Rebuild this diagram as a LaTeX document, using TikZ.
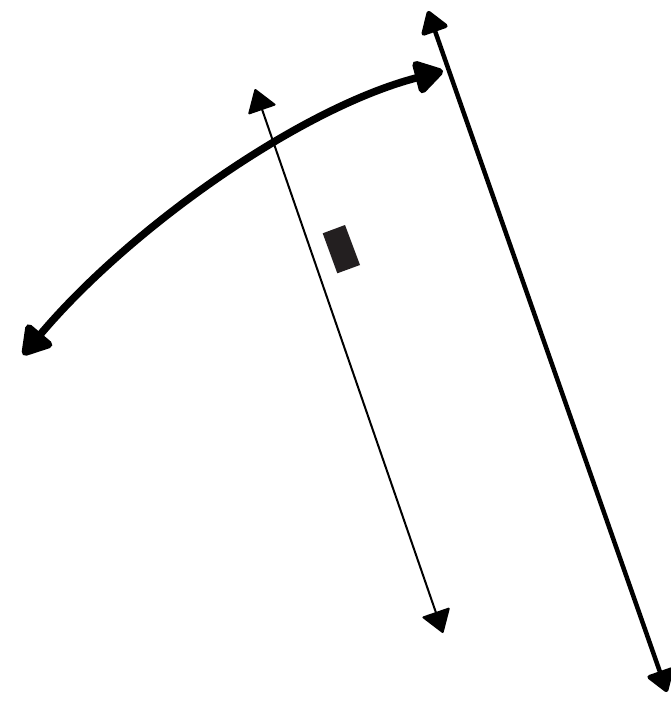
\documentclass[tikz,border=0pt]{standalone}
\usetikzlibrary{arrows.meta}
\definecolor{boxfill}{HTML}{231F20}
\tikzset{
  curvearrow/.style={line width=7.5pt,{Triangle[length=32pt,width=37pt,round]}-{Triangle[length=32pt,width=37pt,round]}},
  thinarrow/.style={line width=2pt,{Triangle[length=23pt,width=30pt,round]}-{Triangle[length=23pt,width=30pt,round]}},
  thickarrow/.style={line width=4.5pt,{Triangle[length=24pt,width=30pt,round]}-{Triangle[length=24pt,width=30pt,round]}},
}
\begin{document}
\begin{tikzpicture}[x=1pt,y=-1pt]
\useasboundingbox (0,0) rectangle (671,701);
\coordinate (cL) at (23,355);
\coordinate (cR) at (443,71);
\coordinate (tT) at (255,89);
\coordinate (tB) at (443,633);
\coordinate (kT) at (428,11);
\coordinate (kB) at (667,692);
\draw[curvearrow] (cL) .. controls (130,228) and (300,108) .. (cR);
\draw[thinarrow] (tT) -- (tB);
\draw[thickarrow] (kT) -- (kB);
\fill[boxfill] (322.7,233.3) -- (345,225) -- (360,265) -- (337.3,273.3) -- cycle;
\end{tikzpicture}
\end{document}
